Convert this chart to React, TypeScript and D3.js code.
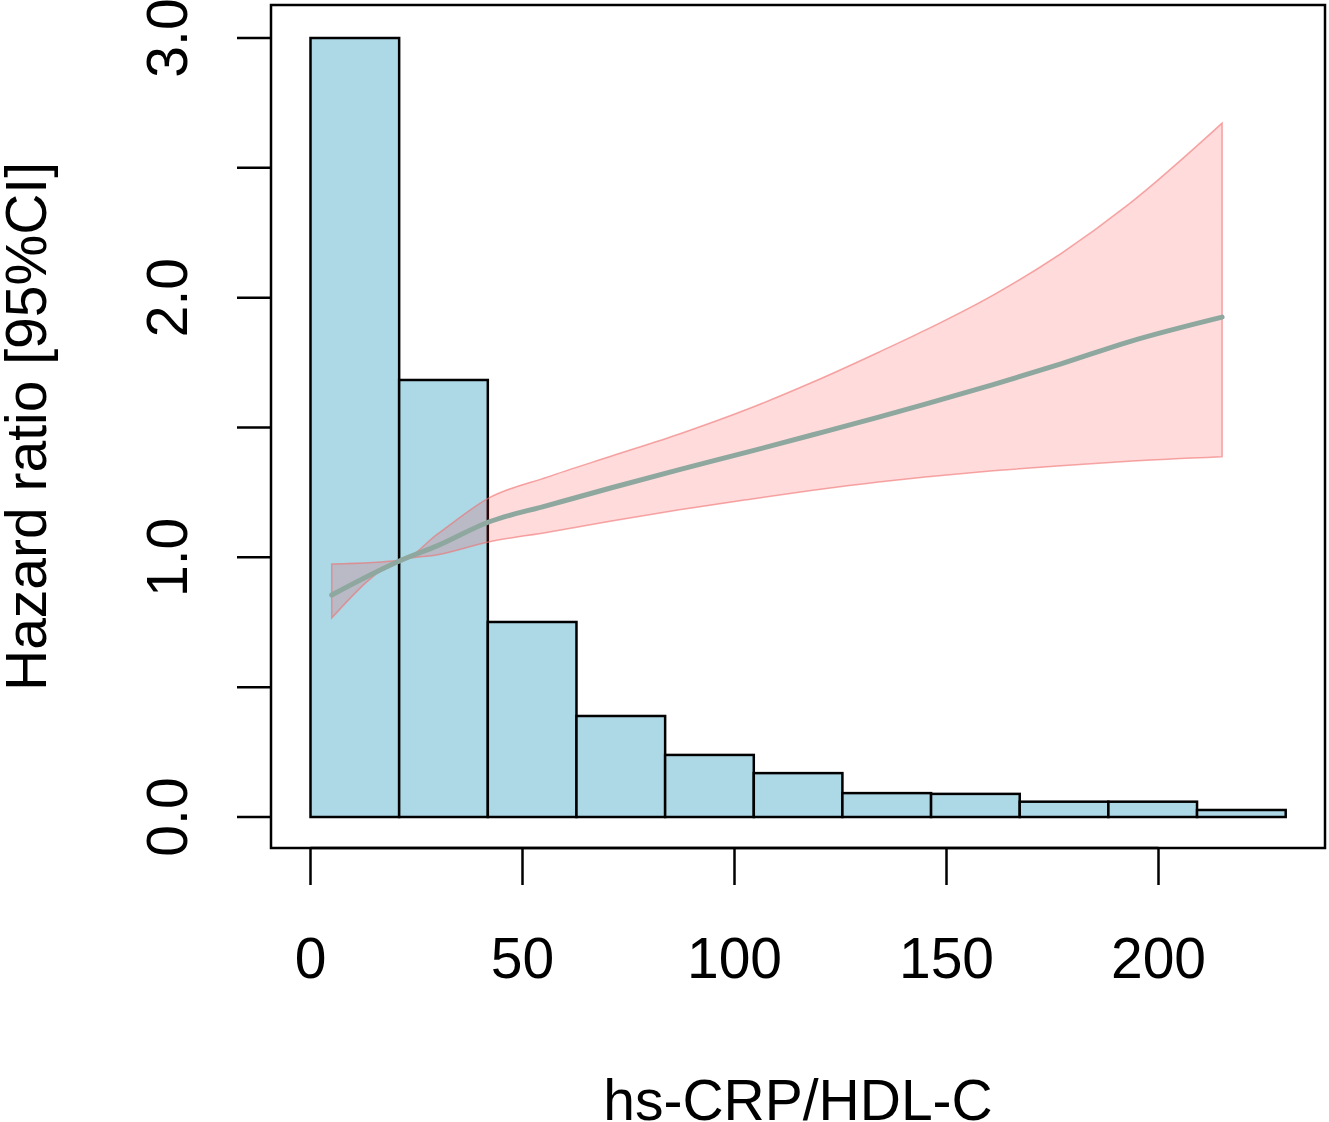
import React, {useEffect, useRef} from 'react'
import * as d3 from 'd3'

// histogram of hs-CRP/HDL-C (heights already scaled to the HR axis)
const binEdges = [0, 20.91, 41.82, 62.73, 83.64, 104.55, 125.45, 146.36, 167.27, 188.18, 209.09, 230]
const binHeights = [3.0, 1.683, 0.751, 0.389, 0.239, 0.169, 0.092, 0.089, 0.059, 0.059, 0.027]

// restricted cubic spline HR curve
const curveX = [5, 21.5, 30, 42, 56, 71, 87, 103, 118.5, 134, 145, 161, 177, 193, 215]
const hr = [0.855, 0.99, 1.045, 1.136, 1.2, 1.268, 1.338, 1.405, 1.472, 1.54, 1.59, 1.665, 1.745, 1.83, 1.925]
const upper = [0.974, 0.99, 1.09, 1.228, 1.31, 1.39, 1.475, 1.57, 1.675, 1.79, 1.875, 2.01, 2.17, 2.36, 2.672]
const lower = [0.766, 0.99, 1.01, 1.059, 1.097, 1.14, 1.183, 1.222, 1.258, 1.29, 1.309, 1.333, 1.353, 1.37, 1.387]

const xTicks = [0, 50, 100, 150, 200]
const yTicks = [0, 0.5, 1, 1.5, 2, 2.5, 3]
const yLabels = [0, 1, 2, 3]

const W = 1329, H = 1122
const box = {left: 271, top: 5, right: 1325, bottom: 848}
const font = '"Liberation Sans", Arial, sans-serif'

export default function App() {
  const ref = useRef<SVGSVGElement | null>(null)

  useEffect(() => {
    const svg = d3.select(ref.current)
    svg.selectAll('*').remove()

    const x = d3.scaleLinear().domain([0, 200]).range([310.5, 1158.5])
    const y = d3.scaleLinear().domain([0, 3]).range([817, 38])

    const bins = binHeights.map((h, i) => ({x0: binEdges[i], x1: binEdges[i + 1], h}))

    svg.append('g')
      .selectAll('rect')
      .data(bins)
      .join('rect')
      .attr('x', d => x(d.x0))
      .attr('y', d => y(d.h))
      .attr('width', d => x(d.x1) - x(d.x0))
      .attr('height', d => y(0) - y(d.h))
      .attr('fill', '#add8e6')
      .attr('stroke', '#000')
      .attr('stroke-width', 2.5)

    const pts = curveX.map((v, i) => ({x: v, hr: hr[i], lo: lower[i], hi: upper[i]}))

    const area = d3.area<any>()
      .x(d => x(d.x))
      .y0(d => y(d.lo))
      .y1(d => y(d.hi))
      .curve(d3.curveMonotoneX)

    svg.append('path')
      .datum(pts)
      .attr('d', area)
      .attr('fill', 'rgba(255,40,40,0.17)')
      .attr('stroke', 'rgba(240,110,110,0.6)')
      .attr('stroke-width', 1.5)

    const line = d3.line<any>()
      .x(d => x(d.x))
      .y(d => y(d.hr))
      .curve(d3.curveMonotoneX)

    svg.append('path')
      .datum(pts)
      .attr('d', line)
      .attr('fill', 'none')
      .attr('stroke', '#8ea89f')
      .attr('stroke-width', 5)
      .attr('stroke-linecap', 'round')

    // frame
    svg.append('rect')
      .attr('x', box.left)
      .attr('y', box.top)
      .attr('width', box.right - box.left)
      .attr('height', box.bottom - box.top)
      .attr('fill', 'none')
      .attr('stroke', '#000')
      .attr('stroke-width', 2.5)

    // x axis
    const gx = svg.append('g')
    gx.append('line')
      .attr('x1', x(0)).attr('x2', x(200))
      .attr('y1', box.bottom).attr('y2', box.bottom)
      .attr('stroke', '#000').attr('stroke-width', 2.5)
    gx.selectAll('line.tick')
      .data(xTicks)
      .join('line')
      .attr('class', 'tick')
      .attr('x1', d => x(d)).attr('x2', d => x(d))
      .attr('y1', box.bottom).attr('y2', 885)
      .attr('stroke', '#000').attr('stroke-width', 2.5)
    gx.selectAll('text')
      .data(xTicks)
      .join('text')
      .attr('x', d => x(d))
      .attr('y', 978)
      .attr('text-anchor', 'middle')
      .attr('font-family', font)
      .attr('font-size', 57)
      .text(d => d)

    // y axis
    const gy = svg.append('g')
    gy.selectAll('line.tick')
      .data(yTicks)
      .join('line')
      .attr('class', 'tick')
      .attr('x1', 237).attr('x2', box.left)
      .attr('y1', d => y(d)).attr('y2', d => y(d))
      .attr('stroke', '#000').attr('stroke-width', 2.5)
    gy.selectAll('text')
      .data(yLabels)
      .join('text')
      .attr('transform', d => `translate(187,${y(d)}) rotate(-90)`)
      .attr('text-anchor', 'middle')
      .attr('font-family', font)
      .attr('font-size', 57)
      .text(d => d3.format('.1f')(d))

    // titles
    svg.append('text')
      .attr('transform', `translate(46,${(box.top + box.bottom) / 2}) rotate(-90)`)
      .attr('text-anchor', 'middle')
      .attr('font-family', font)
      .attr('font-size', 57)
      .text('Hazard ratio [95%CI]')

    svg.append('text')
      .attr('x', (box.left + box.right) / 2)
      .attr('y', 1120)
      .attr('text-anchor', 'middle')
      .attr('font-family', font)
      .attr('font-size', 57)
      .text('hs-CRP/HDL-C')
  }, [])

  return (
    <svg
      ref={ref}
      width={W}
      height={H}
      style={{position: 'absolute', left: 0, top: 0, background: '#fff'}}
    />
  )
}
